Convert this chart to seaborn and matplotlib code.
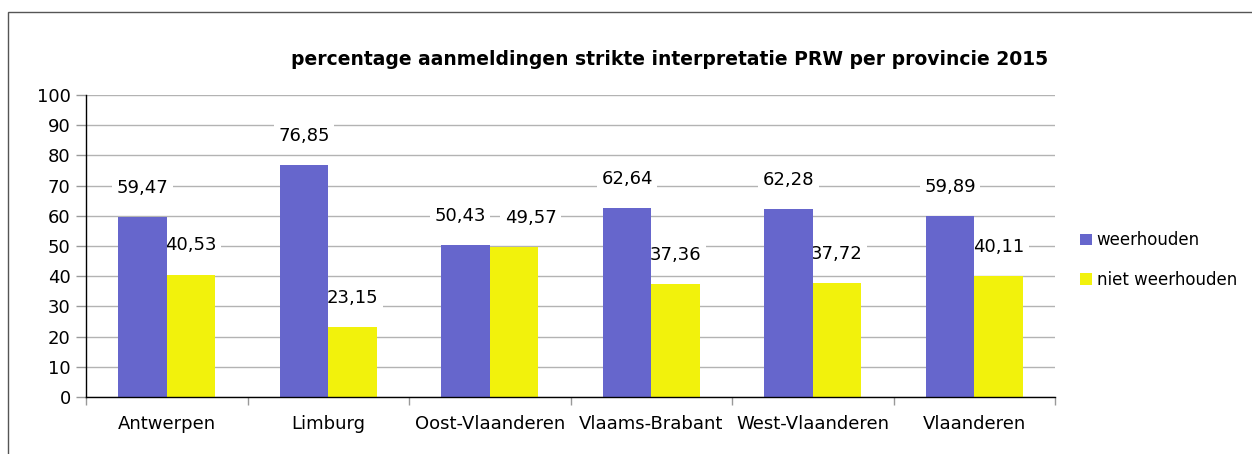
import numpy as np
import pandas as pd
import matplotlib
matplotlib.use('Agg')
import matplotlib.pyplot as plt
import seaborn as sns
from matplotlib.patches import Rectangle

# data
provinces = ['Antwerpen', 'Limburg', 'Oost-Vlaanderen', 'Vlaams-Brabant',
             'West-Vlaanderen', 'Vlaanderen']
weerhouden = [59.47, 76.85, 50.43, 62.64, 62.28, 59.89]
niet_weerhouden = [40.53, 23.15, 49.57, 37.36, 37.72, 40.11]
series = ['weerhouden', 'niet weerhouden']
colors = ['#6666CC', '#F2F20C']

df = pd.DataFrame({
    'provincie': provinces * 2,
    'serie': [series[0]] * len(provinces) + [series[1]] * len(provinces),
    'pct': weerhouden + niet_weerhouden,
})

sns.set_style('white')
plt.rcParams['font.family'] = ['DejaVu Sans']
plt.rcParams['text.color'] = 'black'
plt.rcParams['xtick.labelcolor'] = 'black'
plt.rcParams['ytick.labelcolor'] = 'black'

fig = plt.figure(figsize=(12.52, 4.54), dpi=100)
ax = fig.add_axes([0.0687, 0.1256, 0.7740, 0.6651])

sns.barplot(data=df, x='provincie', y='pct', hue='serie', palette=colors,
            width=0.6, ax=ax, legend=True, saturation=1, linewidth=0)

ax.set_xlim(-0.5, 5.5)
ax.set_ylim(0, 100)
ax.set_yticks(range(0, 101, 10))
ax.set_xlabel('')
ax.set_ylabel('')
ax.yaxis.grid(True, color='#b3b3b3', linewidth=1)
ax.set_axisbelow(True)
for s in ['top', 'right']:
    ax.spines[s].set_visible(False)
for s in ['left', 'bottom']:
    ax.spines[s].set_color('black')
    ax.spines[s].set_linewidth(1)
    ax.spines[s].set_zorder(3)

ax.tick_params(axis='y', length=7, width=1, color='#999999', labelsize=13, pad=4,
               left=True)
ax.set_xticks(np.arange(-0.5, 6, 1), minor=True)
ax.tick_params(axis='x', which='major', length=0, labelsize=13, pad=13)
ax.tick_params(axis='x', which='minor', length=6, width=1, color='#999999',
               bottom=True)

# data labels with white box (below the bars so they only hide gridlines)
# Oost-Vlaanderen labels are pushed apart like in the original
nudge = {(0, 2): -4, (1, 2): 12}
for si, cont in enumerate(ax.containers):
    for ci, bar in enumerate(cont):
        h = bar.get_height()
        xc = bar.get_x() + bar.get_width() / 2
        ax.annotate(f'{h:.2f}'.replace('.', ','), (xc, h),
                    xytext=(nudge.get((si, ci), 0), 21),
                    textcoords='offset points', ha='center', va='center',
                    fontsize=13, zorder=0.8,
                    bbox=dict(boxstyle='square,pad=0.25', fc='white', ec='none'))

handles, labels = ax.get_legend_handles_labels()
fig.legend(handles, labels, loc='center left', bbox_to_anchor=(0.856, 0.427),
           frameon=False, fontsize=12, handlelength=0.7, handleheight=0.7,
           handletextpad=0.3, labelspacing=1.3, borderpad=0)
ax.get_legend().remove()

fig.text(0.535, 0.868, 'percentage aanmeldingen strikte interpretatie PRW per provincie 2015',
         ha='center', va='center', fontsize=13.5, fontweight='bold')

# chart frame
fig.patches.append(Rectangle((8 / 1252, -0.1), 1.2, 1 - 12 / 454 + 0.1,
                             transform=fig.transFigure, fill=False,
                             edgecolor='#555555', linewidth=1))

fig.savefig('out.png', dpi=100)
